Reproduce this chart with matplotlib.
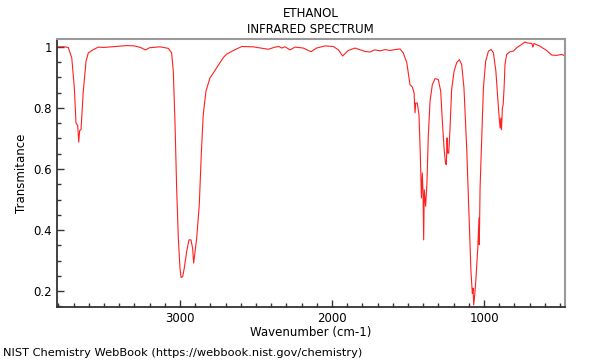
import matplotlib
matplotlib.use('Agg')
import matplotlib.pyplot as plt
from matplotlib.ticker import MultipleLocator

# (wavenumber cm-1, transmittance)
wavenumber = [3809, 3760, 3735, 3712, 3695, 3684, 3673, 3666, 3660, 3651, 3636, 3618,
              3603, 3570, 3537, 3500, 3450, 3400, 3350, 3300, 3260, 3228, 3200, 3150,
              3132, 3100, 3077, 3055, 3044, 3033, 3022, 3011, 3000, 2993, 2982, 2972,
              2956, 2941, 2928, 2917, 2910, 2901, 2890, 2873, 2860, 2847, 2829, 2803,
              2781, 2760, 2737, 2715, 2693, 2649, 2594, 2518, 2419, 2375, 2349, 2331,
              2309, 2276, 2243, 2189, 2138, 2101, 2046, 1991, 1958, 1930, 1893, 1849,
              1783, 1750, 1720, 1684, 1650, 1618, 1586, 1553, 1531, 1508, 1487, 1471,
              1460, 1454, 1449, 1439, 1428, 1419, 1412, 1406, 1401, 1397, 1393, 1384,
              1375, 1367, 1355, 1340, 1322, 1301, 1285, 1274, 1263, 1254, 1248, 1243,
              1239, 1232, 1224, 1213, 1197, 1180, 1162, 1147, 1132, 1114, 1099, 1086,
              1077, 1072, 1068, 1061, 1053, 1041, 1033, 1031, 1026, 1015, 1004, 989,
              971, 953, 938, 922, 911, 902, 894, 889, 885, 879, 874, 868, 862, 851,
              829, 807, 785, 752, 730, 718, 685, 679, 671, 632, 588, 555, 522, 489, 467]
transmittance = [1.0, 1.0, 0.998, 0.964, 0.866, 0.75, 0.743, 0.688, 0.726, 0.729, 0.855, 0.953,
                 0.98, 0.991, 0.999, 0.998, 1.0, 1.002, 1.004, 1.003, 0.998, 0.99, 0.997, 0.999,
                 1.0, 0.997, 0.995, 0.98, 0.92, 0.756, 0.538, 0.374, 0.275, 0.245, 0.248, 0.275,
                 0.33, 0.368, 0.368, 0.341, 0.292, 0.33, 0.374, 0.483, 0.647, 0.778, 0.855, 0.898,
                 0.914, 0.93, 0.948, 0.965, 0.976, 0.988, 1.001, 1.0, 0.992, 0.999, 1.001, 0.996,
                 1.0, 0.99, 0.999, 0.996, 0.984, 0.996, 1.003, 1.001, 0.99, 0.97, 0.988, 0.996,
                 0.985, 0.983, 0.99, 0.987, 0.991, 0.988, 0.991, 0.993, 0.98, 0.948, 0.876, 0.868,
                 0.849, 0.784, 0.816, 0.816, 0.778, 0.647, 0.505, 0.587, 0.516, 0.368, 0.532, 0.478,
                 0.56, 0.702, 0.822, 0.876, 0.896, 0.893, 0.855, 0.756, 0.669, 0.62, 0.614, 0.702,
                 0.652, 0.652, 0.73, 0.86, 0.92, 0.948, 0.958, 0.942, 0.866, 0.669, 0.45, 0.266,
                 0.193, 0.21, 0.155, 0.188, 0.243, 0.341, 0.44, 0.352, 0.538, 0.702, 0.866, 0.953,
                 0.986, 0.991, 0.98, 0.92, 0.844, 0.778, 0.734, 0.767, 0.729, 0.8, 0.811, 0.866, 0.942, 0.975,
                 0.984, 0.986, 0.997, 1.008, 1.016, 1.013, 1.011, 0.999, 1.011, 1.002, 0.988, 0.973, 0.972, 0.975, 0.97]

fig = plt.figure(figsize=(6, 3.6), dpi=100)
ax = fig.add_axes([0.095, 0.147, 0.847, 0.745])

ax.plot(wavenumber, transmittance, color='#ff2020', lw=0.8)

ax.set_xlim(3809, 466)
ax.set_ylim(0.148, 1.026)
ax.xaxis.set_major_locator(MultipleLocator(1000))
ax.xaxis.set_minor_locator(MultipleLocator(100))
ax.yaxis.set_minor_locator(MultipleLocator(0.05))
ax.set_yticks([0.2, 0.4, 0.6, 0.8, 1.0])
ax.set_yticklabels(['0.2', '0.4', '0.6', '0.8', '1'])

ax.tick_params(which='both', direction='in', labelsize=8.5, colors='#333333',
               labelcolor='black', top=False, right=False)
ax.tick_params(axis='both', which='major', length=5, width=1)
ax.tick_params(axis='both', which='minor', length=3, width=1)
for side in ['left', 'bottom']:
    ax.spines[side].set_color('#333333')
    ax.spines[side].set_linewidth(1.3)
for side in ['top', 'right']:
    ax.spines[side].set_color('#999999')
    ax.spines[side].set_linewidth(1.5)

ax.set_xlabel('Wavenumber (cm-1)', fontsize=8.5, labelpad=1)
ax.set_ylabel('Transmitance', fontsize=8.5, labelpad=4)
fig.text(0.518, 0.963, 'ETHANOL', ha='center', va='center', fontsize=8.5)
fig.text(0.518, 0.917, 'INFRARED SPECTRUM', ha='center', va='center', fontsize=8.5)
fig.text(0.005, 0.02, 'NIST Chemistry WebBook (https://webbook.nist.gov/chemistry)',
         ha='left', va='center', fontsize=8.2)

fig.savefig('out.png', dpi=100)
